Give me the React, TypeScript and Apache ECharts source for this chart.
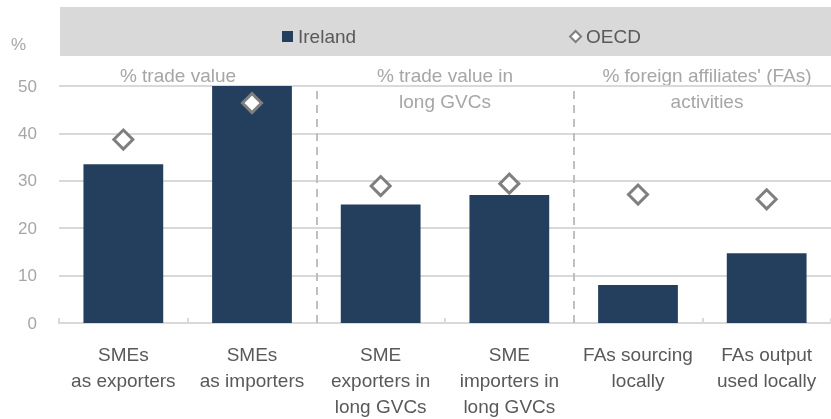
import React, { useEffect, useRef } from "react";
import * as echarts from "echarts";

const categories = [
  "SMEs\nas exporters",
  "SMEs\nas importers",
  "SME\nexporters in\nlong GVCs",
  "SME\nimporters in\nlong GVCs",
  "FAs sourcing\nlocally",
  "FAs output\nused locally",
];
const irelandValues = [33.5, 50, 25, 27, 8, 14.7];
const oecdValues = [38.7, 46.4, 28.9, 29.4, 27.1, 26.1];
const yTicks = [0, 10, 20, 30, 40, 50];
const sectionTitles = [
  "% trade value",
  "% trade value in\nlong GVCs",
  "% foreign affiliates' (FAs)\nactivities",
];
const sectionBoundaries = [2, 4];

const FONT = "'Liberation Sans Narrow', 'Arial Narrow', 'Liberation Sans', Arial, sans-serif";

export default function App() {
  const ref = useRef<HTMLDivElement>(null);
  useEffect(() => {
    if (!ref.current) return;
    const chart = echarts.init(ref.current, undefined, { renderer: "svg" });
    const option: any = {
      animation: false,
      textStyle: { fontFamily: FONT },
      grid: { left: 59, right: 0, top: 86, bottom: 94, containLabel: false },
      legend: {
        left: 277,
        top: 22,
        itemGap: 213,
        itemWidth: 11,
        itemHeight: 11,
        textStyle: { fontFamily: FONT, fontSize: 19, color: "#595959" },
        data: [
          { name: "Ireland", icon: "rect" },
          { name: "OECD", icon: "diamond" },
        ],
      },
      graphic: [
        {
          type: "rect",
          z: -1,
          silent: true,
          shape: { x: 60, y: 7, width: 771, height: 49 },
          style: { fill: "#d9d9d9" },
        },
        {
          type: "text",
          left: 11,
          top: 36,
          style: { text: "%", fontFamily: FONT, fontSize: 17, fill: "#a6a6a6" },
        },
        ...sectionTitles.map((t, i) => ({
          type: "text",
          x: [178, 445, 707][i],
          y: 62,
          style: {
            text: t,
            fontFamily: FONT,
            fontSize: 19,
            lineHeight: 26,
            fill: "#a6a6a6",
            align: "center",
            verticalAlign: "top",
          },
        })),
      ],
      xAxis: [
        {
          type: "category",
          data: categories,
          boundaryGap: true,
          axisLine: { show: true, lineStyle: { color: "#d9d9d9", width: 2 } },
          axisTick: { show: true, inside: true, length: 5, lineStyle: { color: "#d9d9d9", width: 2 } },
          axisLabel: {
            interval: 0,
            margin: 18,
            fontFamily: FONT,
            fontSize: 19,
            lineHeight: 26,
            color: "#595959",
          },
        },
        {
          type: "value",
          min: 0,
          max: 6,
          show: false,
          position: "bottom",
        },
      ],
      yAxis: {
        type: "value",
        min: yTicks[0],
        max: yTicks[yTicks.length - 1],
        interval: 10,
        axisLine: { show: false },
        axisTick: { show: false },
        axisLabel: { margin: 22, fontFamily: FONT, fontSize: 17, color: "#a6a6a6" },
        splitLine: { lineStyle: { color: "#d9d9d9", width: 2 } },
      },
      series: [
        {
          name: "Ireland",
          type: "bar",
          data: irelandValues,
          barWidth: "62%",
          itemStyle: { color: "#243f5e" },
          z: 2,
        },
        {
          name: "OECD",
          type: "scatter",
          data: oecdValues,
          symbol: "diamond",
          symbolSize: 19,
          itemStyle: { color: "#ffffff", borderColor: "#7f7f7f", borderWidth: 3, opacity: 1 },
          z: 3,
        },
        {
          name: "dividers",
          type: "scatter",
          xAxisIndex: 1,
          data: [],
          markLine: {
            silent: true,
            symbol: "none",
            label: { show: false },
            lineStyle: { color: "#bfbfbf", width: 2, type: [8, 6] },
            data: sectionBoundaries.map((b) => ({ xAxis: b })),
          },
        },
      ],
    };
    chart.setOption(option);
    return () => chart.dispose();
  }, []);
  return (
    <div
      ref={ref}
      style={{ position: "fixed", left: 0, top: 0, width: 831, height: 419 }}
    />
  );
}
